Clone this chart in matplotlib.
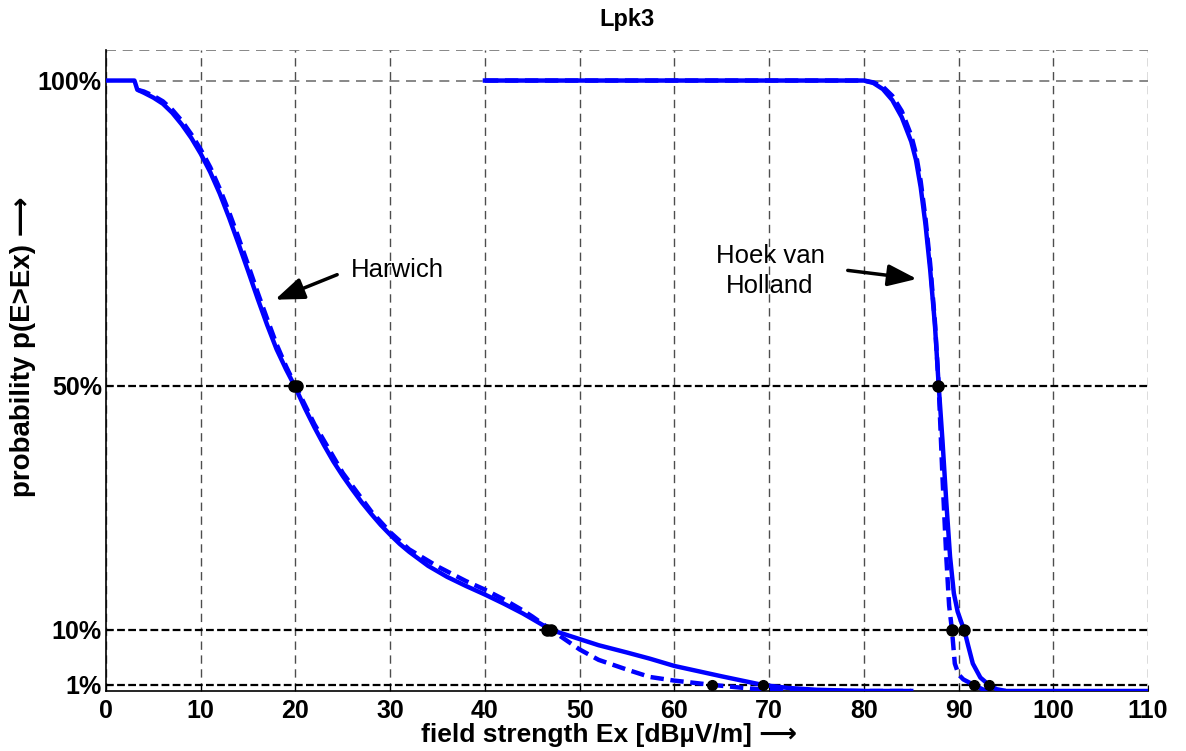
import matplotlib.pyplot as plt
import numpy as np

plt.rcParams['font.family'] = ['Liberation Sans', 'DejaVu Sans']

# Harwich, solid and dashed
harw_x = [0, 3.0, 3.3, 4, 5, 6, 7, 8, 9, 10, 11, 12, 13, 14, 15, 16, 17, 18, 19, 20,
          21, 22, 23, 24, 25, 26, 27, 28, 29, 30, 31, 32, 34, 36, 38, 40, 42, 44, 45,
          46, 47, 50, 52, 55, 57.4, 60, 65, 69.3, 72, 75, 80, 85]
harw_p = [1.0, 1.0, 0.985, 0.98, 0.972, 0.962, 0.947, 0.928, 0.906, 0.88, 0.85, 0.815,
          0.775, 0.732, 0.688, 0.643, 0.6, 0.56, 0.527, 0.497, 0.463, 0.432, 0.403,
          0.376, 0.352, 0.33, 0.309, 0.29, 0.272, 0.256, 0.241, 0.228, 0.205, 0.187,
          0.172, 0.158, 0.143, 0.127, 0.118, 0.109, 0.1, 0.085, 0.075, 0.063, 0.053,
          0.041, 0.024, 0.01, 0.005, 0.002, 0.0, 0.0]
harw_d_x = [3.3, 4, 5, 6, 7, 8, 9, 10, 11, 12, 13, 14, 15, 16, 17, 18, 19, 20, 22, 25,
            28, 30, 32, 35, 38, 40, 42, 44, 45, 46, 47, 50, 52, 55, 57.4, 60, 64, 68,
            72, 85]
harw_d_p = [0.985, 0.982, 0.975, 0.966, 0.952, 0.934, 0.912, 0.887, 0.858, 0.823,
            0.784, 0.742, 0.698, 0.653, 0.61, 0.568, 0.532, 0.5, 0.437, 0.357, 0.294,
            0.26, 0.232, 0.204, 0.18, 0.166, 0.15, 0.132, 0.122, 0.111, 0.1, 0.068,
            0.051, 0.035, 0.023, 0.017, 0.01, 0.004, 0.0, 0.0]

# Hoek van Holland, solid and dashed
hoek_x = [40, 80, 81, 82, 83, 84, 85, 85.5, 86, 86.5, 87, 87.5, 87.9, 88.3, 88.7,
          89.1, 89.5, 89.9, 90.3, 90.6, 91.0, 91.5, 92.3, 93.2, 94, 95, 110]
hoek_p = [1.0, 1.0, 0.996, 0.986, 0.968, 0.94, 0.9, 0.87, 0.825, 0.765, 0.69, 0.6,
          0.5, 0.41, 0.31, 0.22, 0.16, 0.13, 0.112, 0.1, 0.075, 0.045, 0.022, 0.01,
          0.003, 0.0, 0.0]
hoek_d_x = [40, 80, 81, 82, 83, 84, 85, 85.5, 86, 86.5, 87, 87.5, 87.9, 88.3, 88.7,
            89.0, 89.3, 89.6, 90.0, 90.5, 91.6, 92.5, 93, 95]
hoek_d_p = [1.0, 1.0, 0.997, 0.99, 0.975, 0.95, 0.91, 0.88, 0.835, 0.775, 0.7, 0.605,
            0.5, 0.35, 0.22, 0.14, 0.1, 0.045, 0.027, 0.019, 0.01, 0.003, 0.0, 0.0]

# crossing points of the curves with 50%, 10%, 1%
dot_x = [19.8, 20.2, 87.8, 46.6, 47.0, 89.3, 90.6]
dot_p = [0.5, 0.5, 0.5, 0.1, 0.1, 0.1, 0.1]
dot1_x = [64.0, 69.3, 91.6, 93.2]
dot1_p = [0.01, 0.01, 0.01, 0.01]

levels = [0.5, 0.1, 0.01]
xticks = list(range(0, 111, 10))
yticks = [0.01, 0.1, 0.5, 1.0]
ylabels = ['1%', '10%', '50%', '100%']

fig = plt.figure(figsize=(11.86, 7.51), dpi=100)
ax = fig.add_axes([0.0894, 0.0799, 0.8786, 0.8535])

for x in xticks:
    ax.axvline(x, color='0.3', lw=1, dashes=(6, 4), zorder=1)
ax.axhline(1.0, color='0.45', lw=1.2, dashes=(6, 4), zorder=1)
ax.axhline(1.05, color='0.45', lw=1.2, dashes=(6, 4), zorder=1)
for lv in levels:
    ax.axhline(lv, color='black', lw=1.6, dashes=(3.5, 1.5), zorder=2)

ax.plot(harw_x, harw_p, color='#0000ff', lw=3.2, zorder=3)
ax.plot(harw_d_x, harw_d_p, color='#0000ff', lw=3.2, dashes=(3, 1.5), zorder=3)
ax.plot(hoek_x, hoek_p, color='#0000ff', lw=3.2, zorder=3)
ax.plot(hoek_d_x, hoek_d_p, color='#0000ff', lw=3.2, dashes=(3, 1.5), zorder=3)

ax.plot(dot_x, dot_p, 'o', color='black', ms=8, zorder=4)
ax.plot(dot1_x, dot1_p, 'o', color='black', ms=7, zorder=4)

arrow = dict(arrowstyle='-|>,head_length=0.8,head_width=0.3', color='black',
             lw=2.5, mutation_scale=22, shrinkA=0, shrinkB=0)
ax.text(30.8, 0.689, 'Harwich', fontsize=18.5, ha='center', va='center')
ax.annotate('', xy=(17.84, 0.641), xytext=(24.4, 0.682), arrowprops=arrow)
ax.text(70.1, 0.688, 'Hoek van\nHolland', fontsize=18.5, ha='center', va='center',
        linespacing=1.35)
ax.annotate('', xy=(85.6, 0.675), xytext=(78.3, 0.689), arrowprops=arrow)

ax.set_xlim(0, 110)
ax.set_ylim(0, 1.05)
ax.set_xticks(xticks)
ax.set_yticks(yticks)
ax.set_yticklabels(ylabels)
ax.tick_params(labelsize=18, direction='in', length=4)
ax.tick_params(axis='x', pad=6)
ax.tick_params(axis='y', pad=3)
for lab in ax.get_xticklabels() + ax.get_yticklabels():
    lab.set_fontweight('bold')
ax.spines['top'].set_visible(False)
ax.spines['right'].set_visible(False)
ax.spines['left'].set_linewidth(1.2)
ax.spines['bottom'].set_linewidth(1.2)

ax.set_title('Lpk3', fontsize=17, fontweight='bold', pad=17)
ax.set_xlabel('field strength Ex [dB\u00b5V/m] \u27f6', fontsize=19, fontweight='bold')
ax.set_ylabel('probability p(E>Ex) \u27f6', fontsize=20, fontweight='bold')
ax.xaxis.set_label_coords(0.483, -0.05)
ax.yaxis.set_label_coords(-0.067, 0.537)

fig.savefig('out.png', dpi=100)
